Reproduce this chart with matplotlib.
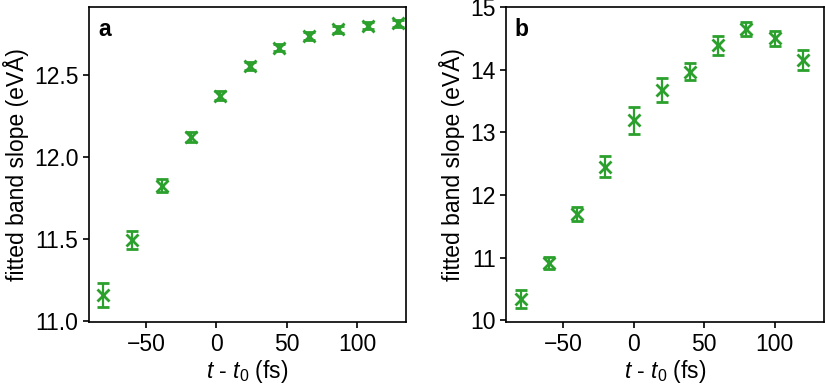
import numpy as np
import matplotlib
matplotlib.use("Agg")
import matplotlib.pyplot as plt

plt.rcParams['font.family'] = ['Liberation Sans', 'DejaVu Sans']
plt.rcParams['mathtext.fontset'] = 'custom'
plt.rcParams['mathtext.rm'] = 'Liberation Sans'
plt.rcParams['mathtext.it'] = 'Liberation Sans:italic'
plt.rcParams['mathtext.bf'] = 'Liberation Sans:bold'

# panel a
t_a = [-80.7, -59.9, -38.8, -18.2, 2.6, 23.7, 44.8, 65.8, 86.9, 107.7, 128.9]
slope_a = [11.159, 11.498, 11.825, 12.124, 12.374, 12.555, 12.667, 12.738, 12.779, 12.800, 12.815]
err_a = [0.073, 0.055, 0.039, 0.030, 0.028, 0.024, 0.022, 0.022, 0.022, 0.022, 0.022]

# panel b
t_b = [-80, -60, -40, -20, 0, 20, 40, 60, 80, 100, 120]
slope_b = [10.34, 10.91, 11.70, 12.45, 13.19, 13.67, 13.97, 14.39, 14.65, 14.50, 14.16]
err_b = [0.147, 0.10, 0.11, 0.17, 0.22, 0.19, 0.13, 0.15, 0.11, 0.12, 0.16]

green = '#2ca02c'
fs = 16.5

fig = plt.figure(figsize=(8.25, 3.89), dpi=100)
ax_a = fig.add_axes([0.1079, 0.172, 0.384, 0.810])
ax_b = fig.add_axes([0.6133, 0.172, 0.3850, 0.810])

panels = [(ax_a, t_a, slope_a, err_a, 'a', (10.995, 12.915), [11.0, 11.5, 12.0, 12.5]),
          (ax_b, t_b, slope_b, err_b, 'b', (9.97, 15.0), [10, 11, 12, 13, 14, 15])]

for ax, t, s, e, lab, ylim, yt in panels:
    ax.errorbar(t, s, yerr=e, fmt='x', color=green, markersize=8, mew=2,
                elinewidth=1.6, capsize=4, capthick=1.6, ls='none')
    ax.set_xlim(-90.5, 134.8)
    ax.set_ylim(*ylim)
    ax.set_yticks(yt)
    ax.set_xticks([-50, 0, 50, 100])
    ax.tick_params(direction='out', length=4.5, width=1.2, labelsize=fs, pad=3)
    for sp in ax.spines.values():
        sp.set_linewidth(1.2)
    ax.set_xlabel(r'$t$ - $t_0$ (fs)', fontsize=fs, labelpad=2)
    ax.set_ylabel('fitted band slope (eVÅ)', fontsize=fs, labelpad=4)
    ax.text(0.028, 0.965, lab, transform=ax.transAxes, ha='left', va='top',
            fontsize=fs, fontweight='bold')

ax_a.yaxis.set_major_formatter(matplotlib.ticker.FormatStrFormatter('%.1f'))

fig.savefig('out.png', dpi=100)
